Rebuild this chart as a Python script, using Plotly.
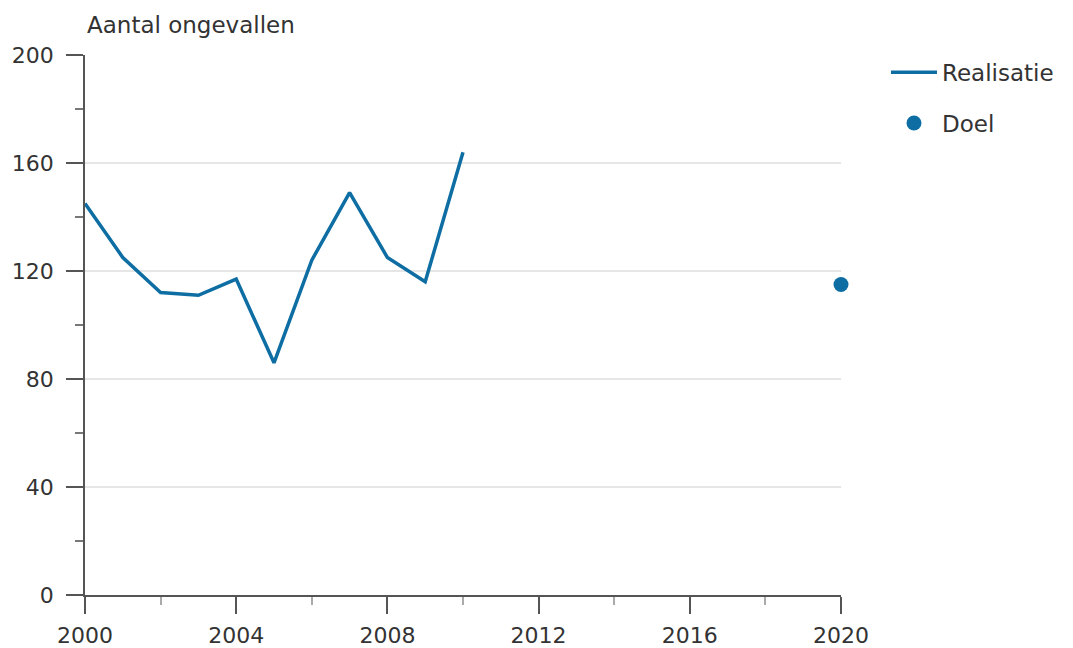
import plotly.graph_objects as go

years = [2000, 2001, 2002, 2003, 2004, 2005, 2006, 2007, 2008, 2009, 2010]
realisatie = [145, 125, 112, 111, 117, 86, 124, 149, 125, 116, 164]
doel_year = [2020]
doel_value = [115]
x_ticks = [2000, 2004, 2008, 2012, 2016, 2020]
x_minor = [2002, 2006, 2010, 2014, 2018]
y_ticks = [0, 40, 80, 120, 160, 200]
y_minor = [20, 60, 100, 140, 180]

blue = "#0e6ea3"
font_family = "'DejaVu Sans', sans-serif"
txt = "#333333"

fig = go.Figure()
fig.add_trace(go.Scatter(x=years, y=realisatie, mode="lines", name="Realisatie",
                         legendgroup="a", line=dict(color=blue, width=3.5)))
fig.add_trace(go.Scatter(x=doel_year, y=doel_value, mode="markers", name="Doel",
                         legendgroup="b", marker=dict(color=blue, size=15), cliponaxis=False))

fig.update_layout(
    width=1065, height=640,
    margin=dict(l=77, r=232, t=47, b=53),
    plot_bgcolor="white", paper_bgcolor="white",
    font=dict(family=font_family, size=22, color=txt),
    showlegend=True,
    legend=dict(x=1.0595, y=1.008, xanchor="left", yanchor="top",
                font=dict(size=23, color=txt), itemwidth=46, tracegroupgap=18),
    annotations=[dict(text="Aantal ongevallen", x=0.0, y=1.0556, xref="paper", yref="paper",
                      xanchor="left", yanchor="middle", showarrow=False,
                      font=dict(size=23, color=txt))],
)
fig.update_xaxes(range=[2000, 2020], tickvals=x_ticks, automargin=False,
                 showgrid=False, zeroline=False, showline=True, linecolor="#555555", linewidth=1.5,
                 ticks="outside", ticklen=17, tickcolor="#555555", tickwidth=1.5,
                 ticklabelstandoff=3,
                 minor=dict(tickvals=x_minor, ticks="outside", ticklen=8,
                            tickcolor="#aaaaaa", tickwidth=1.5, showgrid=False),
                 tickfont=dict(size=22, color=txt))
fig.update_yaxes(range=[0, 200], tickvals=y_ticks, automargin=False,
                 showgrid=True, gridcolor="#e6e6e6", gridwidth=1.5, zeroline=False,
                 showline=True, linecolor="#555555", linewidth=1.5,
                 ticks="outside", ticklen=17, tickcolor="#555555", tickwidth=1.5,
                 ticklabelstandoff=8,
                 minor=dict(tickvals=y_minor, ticks="outside", ticklen=8,
                            tickcolor="#777777", tickwidth=1.5, showgrid=False),
                 tickfont=dict(size=22, color=txt))

fig.write_html("out.html")
